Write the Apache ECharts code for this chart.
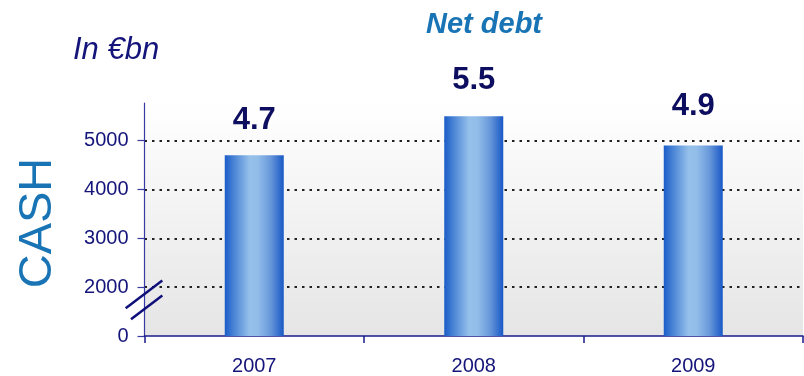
<!DOCTYPE html>
<html>
<head>
<meta charset="utf-8">
<script src="https://cdn.jsdelivr.net/npm/echarts@6/dist/echarts.min.js"></script>
<style>
  html, body { margin: 0; padding: 0; background: #ffffff; }
  #chart { width: 804px; height: 376px; }
</style>
</head>
<body>
<div id="chart"></div>
<script>
// Cash position by year (in millions of euros); labels give net debt in €bn
const years = ['2007', '2008', '2009'];
const cashValues = [4700, 5500, 4900];
const netDebtLabels = ['4.7', '5.5', '4.9'];

// Broken value axis: the bottom of the axis stands for 0, then 2000 upwards
const axisFloor = 1000;
const axisCeiling = 5770;
const yTickValues = [1000, 2000, 3000, 4000, 5000];
const yTickLabels = ['0', '2000', '3000', '4000', '5000'];

// Extra space kept between each value label and its bar
const labelGaps = [19, 20, 24];

const GRID = { left: 144.5, right: 1, top: 103, bottom: 38 };
const NAVY = '#14147a';
const BLUE = '#1874b4';

const chart = echarts.init(document.getElementById('chart'), null, { renderer: 'canvas' });

const barFill = new echarts.graphic.LinearGradient(0, 0, 1, 0, [
  { offset: 0, color: '#1a5cc8' },
  { offset: 0.14, color: '#4580d4' },
  { offset: 0.42, color: '#95c0ea' },
  { offset: 0.56, color: '#92bde9' },
  { offset: 0.78, color: '#6797da' },
  { offset: 1, color: '#1858c6' }
]);

const option = {
  animation: false,
  backgroundColor: '#ffffff',
  textStyle: { fontFamily: 'Liberation Sans, Arial, sans-serif' },
  grid: {
    left: GRID.left, right: GRID.right, top: GRID.top, bottom: GRID.bottom,
    show: true,
    borderWidth: 0,
    backgroundColor: new echarts.graphic.LinearGradient(0, 0, 0, 1, [
      { offset: 0, color: '#ffffff' },
      { offset: 1, color: '#e5e5e5' }
    ])
  },
  xAxis: {
    type: 'category',
    data: years,
    boundaryGap: true,
    axisLine: { show: true, lineStyle: { color: '#1a1a8c', width: 1.5 } },
    axisTick: { show: true, length: 7, alignWithLabel: false, lineStyle: { color: '#1a1a8c', width: 1.5 } },
    axisLabel: { margin: 20, fontSize: 20, color: NAVY, fontFamily: 'Liberation Sans, Arial, sans-serif' },
    splitLine: { show: false }
  },
  yAxis: {
    type: 'value',
    min: axisFloor,
    max: axisCeiling,
    interval: 1000,
    axisLine: { show: true, lineStyle: { color: '#3a3aa6', width: 1.2 } },
    axisTick: {
      show: true, length: 7, customValues: yTickValues,
      lineStyle: { color: '#3a3aa6', width: 1.2 }
    },
    axisLabel: {
      margin: 16, fontSize: 20, color: NAVY,
      fontFamily: 'Liberation Sans, Arial, sans-serif',
      customValues: yTickValues,
      formatter: function (v) {
        const i = yTickValues.indexOf(v);
        return i >= 0 ? yTickLabels[i] : '';
      }
    },
    splitLine: {
      show: true, showMinLine: false, showMaxLine: true,
      lineStyle: { color: '#222222', width: 2, type: [2.5, 5] }
    }
  },
  series: [{
    type: 'bar',
    barWidth: 59,
    clip: true,
    z: 3,
    data: cashValues.map(function (v, i) {
      return {
        value: v,
        label: { distance: labelGaps[i], formatter: netDebtLabels[i] }
      };
    }),
    itemStyle: { color: barFill },
    label: {
      show: true,
      position: 'top',
      fontSize: 31,
      fontWeight: 'bold',
      color: '#0e0e60',
      fontFamily: 'Liberation Sans, Arial, sans-serif'
    }
  }]
};

chart.setOption(option);

// Titles, the vertical "CASH" caption and the axis-break marks
const axisX = GRID.left;
const y2000 = chart.convertToPixel({ yAxisIndex: 0 }, 2000);

chart.setOption({
  graphic: [
    {
      type: 'text', left: 73, top: 35,
      style: {
        text: 'In €bn', fill: NAVY,
        font: 'italic 31px "Liberation Sans", Arial, sans-serif'
      }
    },
    {
      type: 'text', x: 484, y: 10,
      style: {
        text: 'Net debt', fill: BLUE, align: 'center', verticalAlign: 'top',
        font: 'italic bold 29px "Liberation Sans", Arial, sans-serif'
      }
    },
    {
      type: 'text', x: 38.5, y: 223, rotation: Math.PI / 2,
      style: {
        text: 'CASH', fill: BLUE, align: 'center', verticalAlign: 'middle',
        font: '47px "Liberation Sans", Arial, sans-serif'
      }
    },
    {
      type: 'line', z: 10,
      shape: { x1: axisX - 18.8, y1: y2000 + 21, x2: axisX + 17.8, y2: y2000 - 6.7 },
      style: { stroke: '#10107a', lineWidth: 2.5 }
    },
    {
      type: 'line', z: 10,
      shape: { x1: axisX - 13.5, y1: y2000 + 32, x2: axisX + 17.8, y2: y2000 + 8.3 },
      style: { stroke: '#10107a', lineWidth: 2.5 }
    }
  ]
});
</script>
</body>
</html>
